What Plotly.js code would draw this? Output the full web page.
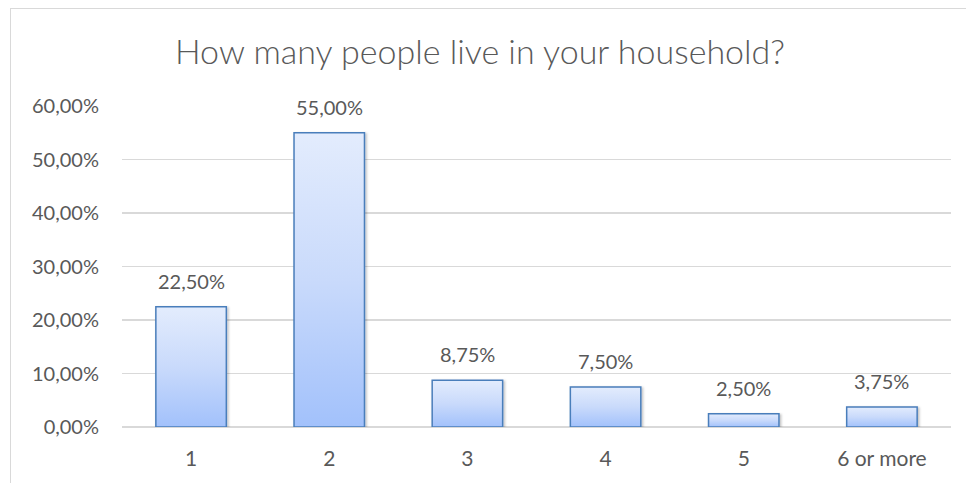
<!DOCTYPE html>
<html><head><meta charset="utf-8">
<script src="https://cdn.plot.ly/plotly-3.0.1.min.js"></script>
<style>
html,body{margin:0;padding:0;background:#fff;}
#wrap{position:relative;width:966px;height:483px;}
#frame{position:absolute;left:10px;top:8px;width:960px;height:480px;border-left:1px solid #d9d9d9;border-top:1px solid #d9d9d9;}
#chart{position:absolute;left:0;top:0;width:966px;height:483px;}
</style></head>
<body><div id="wrap"><div id="frame"></div><div id="chart"></div></div>
<script>
const categories = ["1", "2", "3", "4", "5", "6 or more"];
const shares = [0.225, 0.55, 0.0875, 0.075, 0.025, 0.0375];
const yTicks = [0, 0.1, 0.2, 0.3, 0.4, 0.5, 0.6];
const chartTitle = "How many people live in your household?";

const fontFam = "Lato, 'Open Sans', sans-serif";
const txtSize = 20;
const fmt = function(v){ return (v * 100).toFixed(2).replace(".", ",") + "%"; };
const trace = {
  type: "bar",
  x: categories,
  y: shares,
  marker: {color: "#c5d8fb", line: {color: "#4a7ebb", width: 1.5}},
  hoverinfo: "skip"
};
const labels = shares.map(function(v, i){
  return {x: i, y: v, xref: "x", yref: "y", text: fmt(v), showarrow: false,
          yanchor: "middle", yshift: 26, font: {family: fontFam, size: txtSize, color: "#595959"}};
});
const layout = {
  width: 966, height: 483,
  margin: {l: 122, r: 15, t: 106, b: 56},
  paper_bgcolor: "rgba(0,0,0,0)",
  plot_bgcolor: "rgba(0,0,0,0)",
  separators: ", ",
  bargap: 0.49,
  showlegend: false,
  title: {text: chartTitle, x: 480 / 966, xref: "container", xanchor: "center",
          y: 1 - 52 / 483, yref: "container", yanchor: "middle",
          font: {family: fontFam, size: 34, color: "#595959", weight: 300}},
  font: {family: fontFam, color: "#595959"},
  xaxis: {type: "category", showgrid: false, zeroline: false, showline: false, ticks: "",
          tickfont: {size: 21, color: "#595959"}, ticklabelstandoff: 17},
  yaxis: {range: [0, 0.6], tickvals: yTicks, tickformat: ".2%", showgrid: true, gridcolor: "#d9d9d9",
          gridwidth: 1.3, zeroline: true, zerolinecolor: "#d9d9d9", zerolinewidth: 1.3, showline: false,
          ticks: "", tickfont: {size: txtSize, color: "#595959"}, ticklabelstandoff: 22},
  annotations: labels
};
Plotly.newPlot("chart", [trace], layout, {staticPlot: true}).then(function(){
  const svg = document.querySelector("#chart .main-svg");
  const ns = "http://www.w3.org/2000/svg";
  let defs = svg.querySelector("defs");
  if (!defs) { defs = document.createElementNS(ns, "defs"); svg.insertBefore(defs, svg.firstChild); }
  const g = document.createElementNS(ns, "linearGradient");
  g.setAttribute("id", "barGrad"); g.setAttribute("x1", "0"); g.setAttribute("y1", "0");
  g.setAttribute("x2", "0"); g.setAttribute("y2", "1");
  [["0", "#e3ecfd"], ["0.5", "#c9dafb"], ["1", "#a2c1fb"]].forEach(function(s){
    const st = document.createElementNS(ns, "stop");
    st.setAttribute("offset", s[0]); st.setAttribute("stop-color", s[1]); g.appendChild(st);
  });
  defs.appendChild(g);
  const f = document.createElementNS(ns, "filter");
  f.setAttribute("id", "barShadow"); f.setAttribute("x", "-10%"); f.setAttribute("y", "-10%");
  f.setAttribute("width", "130%"); f.setAttribute("height", "130%");
  f.innerHTML = '<feDropShadow dx="1.5" dy="1" stdDeviation="1.2" flood-color="#000" flood-opacity="0.25"/>';
  defs.appendChild(f);
  document.querySelectorAll("#chart .bars .point path").forEach(function(p){
    p.style.fill = "url(#barGrad)";
    p.style.filter = "url(#barShadow)";
  });
});
</script></body></html>
